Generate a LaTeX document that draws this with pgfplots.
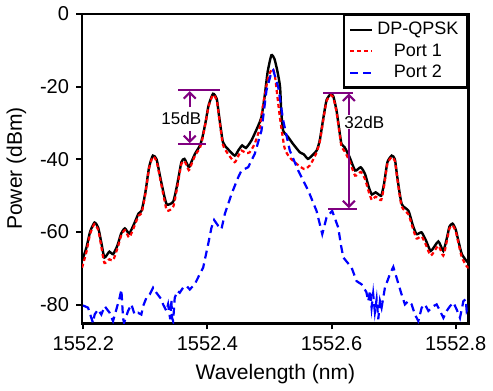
\documentclass[border=0pt]{standalone}
\usepackage{fontspec}
\setmainfont{Liberation Sans}
\usepackage{pgfplots}
\pgfplotsset{compat=1.18}
\usetikzlibrary{arrows.meta}
\definecolor{annot}{RGB}{128,0,128}
\begin{document}
\begin{tikzpicture}
\begin{axis}[
  width=193pt, height=154.5pt, scale only axis,
  xmin=1552.198, xmax=1552.821, ymin=-85.1, ymax=0,
  xtick={1552.2,1552.4,1552.6,1552.8},
  xticklabels={1552.2,1552.4,1552.6,1552.8},
  ytick={0,-20,-40,-60,-80},
  scaled ticks=false,
  tick pos=left, tick align=outside,
  major tick length=3pt,
  axis line style={line width=1.25pt},
  every tick/.style={line width=1pt, black},
  /pgf/number format/assume math mode=true,
  ticklabel style={font=\fontsize{10}{12}\selectfont},
  label style={font=\fontsize{10.5}{12}\selectfont},
  xlabel={Wavelength (nm)}, ylabel={Power (dBm)},
  legend style={at={(1,1)}, anchor=north east, draw=black, line width=1.25pt,
    font=\fontsize{9}{10.5}\selectfont, inner xsep=2.5pt, inner ysep=1.5pt, row sep=-1pt},
  legend cell align=center,
  legend image code/.code={\draw[#1] (0pt,0pt) -- (11pt,0pt);},
]
\addplot[black, line width=1.2pt, smooth, tension=0.35] coordinates {
(1552.198,-67.9) (1552.205,-64.3) (1552.211,-59.9) (1552.218,-57.4) (1552.224,-58.8)
(1552.229,-62.9) (1552.234,-67.0) (1552.242,-65.4) (1552.248,-66.1) (1552.255,-63.7)
(1552.261,-60.4) (1552.267,-59.0) (1552.274,-60.4) (1552.282,-57.7) (1552.289,-54.9)
(1552.294,-54.1) (1552.300,-49.1) (1552.306,-42.2) (1552.312,-39.0) (1552.318,-40.0)
(1552.324,-45.0) (1552.331,-50.5) (1552.335,-52.5) (1552.345,-51.6) (1552.352,-46.3)
(1552.358,-40.8) (1552.363,-39.9) (1552.370,-42.2) (1552.374,-40.8) (1552.380,-38.5)
(1552.388,-36.2) (1552.392,-33.9) (1552.397,-29.8) (1552.402,-25.1) (1552.409,-22.0)
(1552.415,-23.4) (1552.419,-28.4) (1552.425,-35.3) (1552.433,-37.2) (1552.444,-39.0)
(1552.450,-37.5) (1552.456,-36.2) (1552.462,-36.9) (1552.471,-34.8) (1552.482,-30.7)
(1552.487,-28.4) (1552.492,-22.9) (1552.497,-16.0) (1552.503,-11.4) (1552.508,-12.4)
(1552.513,-16.0) (1552.517,-20.1) (1552.519,-27.0) (1552.522,-32.1) (1552.530,-33.9)
(1552.538,-35.8) (1552.549,-38.1) (1552.555,-38.6) (1552.562,-39.9) (1552.569,-38.9)
(1552.576,-37.6) (1552.581,-34.8) (1552.587,-28.4) (1552.592,-23.7) (1552.599,-22.0)
(1552.603,-22.8) (1552.608,-26.6) (1552.613,-32.6) (1552.616,-35.8) (1552.621,-36.7)
(1552.629,-39.4) (1552.638,-43.1) (1552.647,-42.2) (1552.654,-44.1) (1552.660,-47.7)
(1552.665,-49.7) (1552.671,-49.1) (1552.680,-50.0) (1552.685,-46.3) (1552.690,-40.8)
(1552.697,-39.0) (1552.702,-40.0) (1552.706,-45.0) (1552.713,-52.3) (1552.724,-54.2)
(1552.731,-58.2) (1552.737,-60.6) (1552.745,-60.1) (1552.752,-62.3) (1552.760,-65.2)
(1552.772,-62.6) (1552.780,-65.2) (1552.786,-61.5) (1552.790,-58.5) (1552.795,-57.7)
(1552.800,-59.3) (1552.805,-62.9) (1552.810,-66.1) (1552.818,-68.1) (1552.821,-68.4)
};
\addlegendentry{DP-QPSK}
\addplot[red, line width=1.1pt, dash pattern=on 2pt off 1.5pt, smooth, tension=0.35] coordinates {
(1552.198,-69.8) (1552.205,-65.5) (1552.211,-60.5) (1552.218,-57.8) (1552.224,-59.5)
(1552.229,-64.0) (1552.234,-68.5) (1552.242,-67.5) (1552.248,-67.8) (1552.255,-64.5)
(1552.261,-61.0) (1552.267,-59.5) (1552.274,-61.5) (1552.282,-58.5) (1552.289,-55.5)
(1552.294,-54.8) (1552.300,-49.5) (1552.306,-42.5) (1552.312,-39.3) (1552.318,-40.5)
(1552.324,-45.5) (1552.331,-51.5) (1552.335,-54.2) (1552.345,-53.0) (1552.352,-47.0)
(1552.358,-41.3) (1552.363,-40.5) (1552.370,-43.0) (1552.374,-41.5) (1552.380,-39.0)
(1552.388,-36.8) (1552.392,-34.3) (1552.397,-30.0) (1552.402,-25.4) (1552.409,-22.3)
(1552.415,-23.8) (1552.419,-28.8) (1552.425,-36.0) (1552.433,-38.5) (1552.444,-40.8)
(1552.450,-39.0) (1552.455,-37.6) (1552.462,-38.3) (1552.468,-38.1) (1552.476,-35.8)
(1552.484,-31.6) (1552.490,-24.7) (1552.498,-17.4) (1552.505,-15.1) (1552.509,-17.4)
(1552.516,-27.5) (1552.524,-36.7) (1552.532,-39.4) (1552.544,-41.3) (1552.556,-42.7)
(1552.565,-41.7) (1552.575,-38.5) (1552.581,-35.2) (1552.587,-28.8) (1552.592,-24.0)
(1552.599,-22.4) (1552.603,-23.2) (1552.608,-27.0) (1552.613,-33.0) (1552.616,-36.5)
(1552.621,-37.8) (1552.629,-40.5) (1552.638,-44.5) (1552.647,-43.5) (1552.654,-45.5)
(1552.660,-49.0) (1552.665,-51.2) (1552.671,-50.3) (1552.680,-51.2) (1552.685,-47.0)
(1552.690,-41.2) (1552.697,-39.4) (1552.702,-40.5) (1552.706,-45.5) (1552.713,-53.0)
(1552.724,-55.2) (1552.731,-59.0) (1552.737,-61.8) (1552.745,-61.2) (1552.752,-63.5)
(1552.760,-66.5) (1552.772,-63.8) (1552.780,-66.5) (1552.786,-62.3) (1552.790,-59.0)
(1552.795,-58.2) (1552.800,-59.8) (1552.805,-63.5) (1552.810,-67.0) (1552.818,-69.5)
(1552.821,-69.8)
};
\addlegendentry{Port 1}
\addplot[blue, line width=1.1pt, dash pattern=on 4pt off 2.5pt] coordinates {
(1552.1995,-80.2) (1552.2076,-80.8) (1552.2156,-85.0) (1552.2182,-82.7) (1552.2237,-81.3)
(1552.2290,-82.7) (1552.2344,-80.4) (1552.2424,-82.2) (1552.2479,-84.5) (1552.2532,-81.3)
(1552.2585,-78.1) (1552.2613,-75.8) (1552.2640,-83.6) (1552.2656,-85.0) (1552.2721,-81.7)
(1552.2774,-79.9) (1552.2827,-82.7) (1552.2882,-82.2) (1552.2935,-82.7) (1552.2963,-80.4)
(1552.3016,-78.1) (1552.3069,-77.2) (1552.3124,-75.3) (1552.3177,-76.7) (1552.3258,-78.5)
(1552.3285,-79.9) (1552.3339,-81.7) (1552.3366,-79.9) (1552.3400,-84.0) (1552.3419,-78.5)
(1552.3430,-83.6) (1552.3447,-84.5) (1552.3473,-78.1) (1552.3516,-76.2) (1552.3553,-76.7)
(1552.3608,-75.3) (1552.3661,-74.8) (1552.3715,-75.8) (1552.3795,-74.4) (1552.3876,-71.6)
(1552.3931,-69.8) (1552.4011,-63.4) (1552.4065,-58.8) (1552.4108,-56.7) (1552.4173,-58.3)
(1552.4226,-59.2) (1552.4279,-55.1) (1552.4387,-49.6) (1552.4495,-45.0) (1552.4548,-43.1)
(1552.4656,-42.2) (1552.4763,-38.5) (1552.4871,-32.1) (1552.4952,-21.0) (1552.5032,-16.0)
(1552.5060,-15.5) (1552.5140,-20.1) (1552.5220,-29.3) (1552.5327,-37.6) (1552.5463,-43.1)
(1552.5624,-48.6) (1552.5758,-54.2) (1552.5850,-60.6) (1552.5919,-56.0) (1552.6010,-54.2)
(1552.6108,-58.8) (1552.6150,-63.5) (1552.6189,-67.0) (1552.6323,-69.8) (1552.6403,-73.5)
(1552.6484,-74.4) (1552.6560,-76.5) (1552.6592,-79.0) (1552.6620,-76.0) (1552.6645,-80.8)
(1552.6670,-77.0) (1552.6698,-82.0) (1552.6726,-78.5) (1552.6753,-84.0) (1552.6780,-79.0)
(1552.6806,-80.8) (1552.6860,-75.3) (1552.6940,-71.6) (1552.6995,-69.6) (1552.7048,-72.6)
(1552.7129,-77.2) (1552.7182,-79.9) (1552.7237,-79.0) (1552.7290,-79.9) (1552.7344,-82.7)
(1552.7398,-84.5) (1552.7452,-80.8) (1552.7505,-79.9) (1552.7560,-81.7) (1552.7640,-80.4)
(1552.7694,-79.9) (1552.7747,-81.7) (1552.7802,-83.6) (1552.7855,-81.7) (1552.7908,-80.4)
(1552.7963,-79.4) (1552.8016,-81.3) (1552.8069,-83.6) (1552.8124,-79.0) (1552.8161,-78.5)
(1552.8177,-81.7) (1552.8210,-80.5)
};
\addlegendentry{Port 2}
% 15 dB annotation
\draw[annot, line width=1pt] (axis cs:1552.3527,-21.05) -- (axis cs:1552.4198,-21.05);
\draw[annot, line width=1pt] (axis cs:1552.3527,-35.8) -- (axis cs:1552.3984,-35.8);
\draw[annot, line width=1pt, -{Straight Barb[length=3pt,width=6pt]}] (axis cs:1552.3715,-25.7) -- (axis cs:1552.3715,-21.3);
\draw[annot, line width=1pt, -{Straight Barb[length=3pt,width=6pt]}] (axis cs:1552.3715,-32.1) -- (axis cs:1552.3715,-35.55);
\node[font=\fontsize{8.5}{10}\selectfont, inner sep=0pt] at (axis cs:1552.358,-28.9) {15dB};
% 32 dB annotation
\draw[annot, line width=1pt] (axis cs:1552.5866,-21.7) -- (axis cs:1552.635,-21.7);
\draw[annot, line width=1pt] (axis cs:1552.5947,-53.7) -- (axis cs:1552.6403,-53.7);
\draw[annot, line width=1pt, {Straight Barb[length=3pt,width=6pt]}-{Straight Barb[length=3pt,width=6pt]}] (axis cs:1552.6279,-21.95) -- (axis cs:1552.6279,-53.45);
\node[font=\fontsize{8.5}{10}\selectfont, fill=white, inner sep=0.5pt] at (axis cs:1552.6527,-29.8) {32dB};
\end{axis}
\end{tikzpicture}
\end{document}
